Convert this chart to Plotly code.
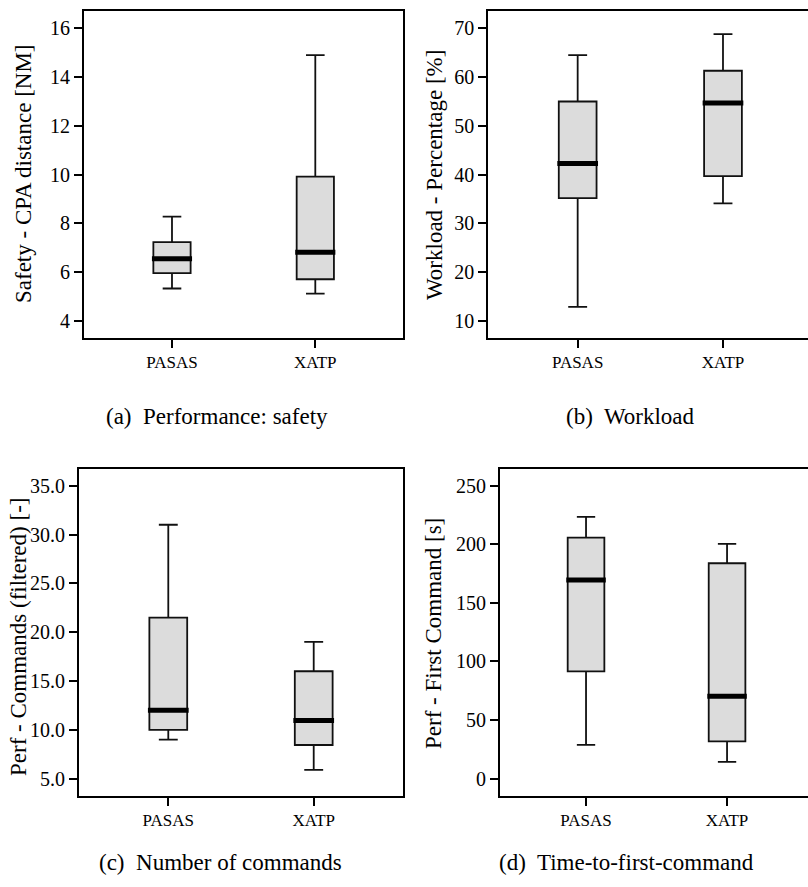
import plotly.graph_objects as go

# ---------------- data ----------------
groups = ["PASAS", "XATP"]

safety_lower = [5.33, 5.12]
safety_q1 = [5.96, 5.71]
safety_median = [6.55, 6.82]
safety_q3 = [7.23, 9.92]
safety_upper = [8.28, 14.9]

workload_lower = [12.9, 34.1]
workload_q1 = [35.2, 39.7]
workload_median = [42.3, 54.7]
workload_q3 = [55.0, 61.3]
workload_upper = [64.5, 68.8]

commands_lower = [9.0, 5.9]
commands_q1 = [10.0, 8.45]
commands_median = [12.0, 10.95]
commands_q3 = [21.5, 16.0]
commands_upper = [31.0, 19.0]

first_lower = [28.8, 14.3]
first_q1 = [91.6, 31.9]
first_median = [169.5, 70.3]
first_q3 = [205.6, 183.8]
first_upper = [223.3, 200.3]

y_titles = ["Safety - CPA distance [NM]", "Workload - Percentage [%]",
            "Perf - Commands (filtered) [-]", "Perf - First Command [s]"]
captions = ["(a)  Performance: safety", "(b)  Workload",
            "(c)  Number of commands", "(d)  Time-to-first-command"]

W, H = 808, 887
FONT = "'Liberation Serif', 'Times New Roman', Times, 'DejaVu Serif', serif"

fig = go.Figure()

panels = [
    dict(stats=(safety_lower, safety_q1, safety_median, safety_q3, safety_upper),
         xpx=(84, 403), ypx=(11, 338), xr=[-0.614, 1.612], yr=[3.30, 16.71],
         tickvals=[4, 6, 8, 10, 12, 14, 16], fmt="", mirror=True,
         title_xy=(24, 174), cap_xy=(217, 417)),
    dict(stats=(workload_lower, workload_q1, workload_median, workload_q3, workload_upper),
         xpx=(488.3, 808), ypx=(11, 338), xr=[-0.615, 1.585], yr=[6.51, 73.55],
         tickvals=[10, 20, 30, 40, 50, 60, 70], fmt="", mirror=False,
         title_xy=(435, 175), cap_xy=(630, 417)),
    dict(stats=(commands_lower, commands_q1, commands_median, commands_q3, commands_upper),
         xpx=(79, 403), ypx=(469, 795.7), xr=[-0.614, 1.614], yr=[3.26, 36.71],
         tickvals=[5, 10, 15, 20, 25, 30, 35], fmt=".1f", mirror=True,
         title_xy=(18, 637), cap_xy=(220, 862)),
    dict(stats=(first_lower, first_q1, first_median, first_q3, first_upper),
         xpx=(500, 808), ypx=(469, 795.7), xr=[-0.61, 1.574], yr=[-14.5, 264.2],
         tickvals=[0, 50, 100, 150, 200, 250], fmt="", mirror=False,
         title_xy=(433, 634), cap_xy=(626, 862)),
]

positions = [0, 1]
box_w = 0.26
med_hw = 0.14

for i, p in enumerate(panels):
    n = i + 1
    xa = "x" if n == 1 else f"x{n}"
    ya = "y" if n == 1 else f"y{n}"
    lo, q1, med, q3, up = p["stats"]
    fig.add_trace(go.Box(
        x=positions, lowerfence=lo, q1=q1, median=med, q3=q3, upperfence=up,
        width=box_w, whiskerwidth=0.5, boxpoints=False,
        fillcolor="#dcdcdc", line=dict(color="#111111", width=1.8),
        xaxis=xa, yaxis=ya, showlegend=False, hoverinfo="skip"))
    mx, my = [], []
    for pos, m in zip(positions, med):
        mx += [pos - med_hw, pos + med_hw, None]
        my += [m, m, None]
    fig.add_trace(go.Scatter(
        x=mx, y=my, mode="lines", line=dict(color="black", width=5),
        xaxis=xa, yaxis=ya, showlegend=False, hoverinfo="skip"))

    x0, x1 = p["xpx"]
    y0, y1 = p["ypx"]
    xkey = "xaxis" if n == 1 else f"xaxis{n}"
    ykey = "yaxis" if n == 1 else f"yaxis{n}"
    fig.layout[xkey] = dict(
        domain=[x0 / W, min(x1 / W, 1.0)], anchor=ya, range=p["xr"],
        tickmode="array", tickvals=positions, ticktext=groups,
        showline=True, mirror=True, linecolor="black", linewidth=2,
        ticks="outside", ticklen=8, tickwidth=2, tickcolor="black",
        showgrid=False, zeroline=False,
        tickfont=dict(family=FONT, size=17, color="black"))
    fig.layout[ykey] = dict(
        domain=[1 - y1 / H, 1 - y0 / H], anchor=xa, range=p["yr"],
        tickmode="array", tickvals=p["tickvals"], tickformat=p["fmt"],
        showline=True, mirror=p["mirror"], linecolor="black", linewidth=2,
        ticks="outside", ticklen=8, tickwidth=2, tickcolor="black",
        showgrid=False, zeroline=False,
        tickfont=dict(family=FONT, size=20, color="black"))

    tx, ty = p["title_xy"]
    fig.add_annotation(text=y_titles[i], x=tx / W, y=1 - ty / H, xref="paper", yref="paper",
                       textangle=-90, showarrow=False, xanchor="center", yanchor="middle",
                       font=dict(family=FONT, size=23, color="black"))
    cx, cy = p["cap_xy"]
    fig.add_annotation(text=captions[i], x=cx / W, y=1 - cy / H, xref="paper", yref="paper",
                       showarrow=False, xanchor="center", yanchor="middle",
                       font=dict(family=FONT, size=23, color="black"))

fig.update_layout(width=W, height=H, margin=dict(l=0, r=0, t=0, b=0),
                  plot_bgcolor="white", paper_bgcolor="white", showlegend=False,
                  font=dict(family=FONT, color="black"))

fig.write_html("out.html", config={"displayModeBar": False},
               post_script="document.body.style.margin='0px';document.body.style.overflow='hidden';")
